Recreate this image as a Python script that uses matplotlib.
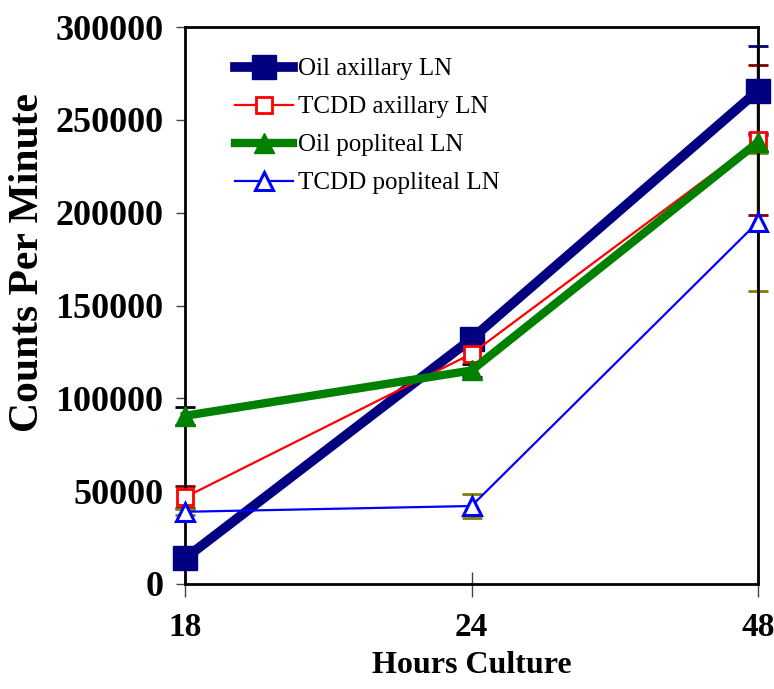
import matplotlib
matplotlib.use("Agg")
import matplotlib.pyplot as plt

plt.rcParams['font.family'] = ['Liberation Serif', 'DejaVu Serif']

# Culture time points (hours)
hours = ["18", "24", "48"]

# Mean counts per minute for each lymph node group
oil_axillary = [13800, 132000, 265700]
tcdd_axillary = [46700, 124000, 239000]
oil_popliteal = [90600, 115000, 238000]
tcdd_popliteal = [38900, 42000, 195000]

# Error magnitudes (symmetric)
oil_axillary_err = [3000, 3000, 24000]
tcdd_axillary_err = [6000, 3000, 40500]
oil_popliteal_err = [5000, 3500, 5000]
tcdd_popliteal_err = [1500, 6500, 37000]

y_ticks = [0, 50000, 100000, 150000, 200000, 250000, 300000]

fig = plt.figure(figsize=(7.74, 6.89), dpi=100)
ax = fig.add_axes([185 / 774, 1 - 584 / 689, (758 - 185) / 774, (584 - 27) / 689])

x = list(range(len(hours)))

series = [
    (oil_axillary, oil_axillary_err, "Oil axillary LN",
     dict(color="#000080", lw=7, marker="s", ms=17, mfc="#000080", mec="#000080", mew=1),
     "#000080"),
    (tcdd_axillary, tcdd_axillary_err, "TCDD axillary LN",
     dict(color="#FF0000", lw=1.6, marker="s", ms=11, mfc="white", mec="#FF0000", mew=2),
     "#800000"),
    (oil_popliteal, oil_popliteal_err, "Oil popliteal LN",
     dict(color="#008000", lw=6, marker="^", ms=15, mfc="#008000", mec="#008000", mew=1),
     "#000000"),
    (tcdd_popliteal, tcdd_popliteal_err, "TCDD popliteal LN",
     dict(color="#0000FF", lw=1.6, marker="^", ms=13, mfc="white", mec="#0000FF", mew=2.2),
     "#808000"),
]

# error bars sit beneath all series lines and markers
for vals, errs, label, style, ecol in series:
    eb = ax.errorbar(x, vals, yerr=errs, fmt="none", ecolor=ecol, elinewidth=1.6,
                     capsize=7, capthick=2, zorder=1.5)
    for art in list(eb.lines[1]) + list(eb.lines[2]):
        art.set_clip_on(False)

handles = []
for i, (vals, errs, label, style, ecol) in enumerate(series):
    (ln,) = ax.plot(x, vals, label=label, zorder=3 + i, clip_on=False, **style)
    handles.append(ln)

ax.set_xlim(0, 2)
ax.set_ylim(0, 300000)
ax.set_xticks(x)
ax.set_xticklabels(hours)
ax.set_yticks(y_ticks)
ax.set_yticklabels([str(v) for v in y_ticks])

for s in ax.spines.values():
    s.set_linewidth(2.0)
    s.set_color("black")

ax.tick_params(axis="y", direction="out", length=6.5, width=1.0, color="#444444",
               pad=9, labelsize=26)
ax.tick_params(axis="x", direction="inout", length=18, width=1.0, color="#444444",
               pad=11, labelsize=24)
for lab in ax.get_xticklabels() + ax.get_yticklabels():
    lab.set_fontweight("bold")

ax.set_xlabel("Hours Culture", fontsize=23, fontweight="bold", labelpad=6)
ax.set_ylabel("Counts Per Minute", fontsize=30, fontweight="bold")
ax.yaxis.set_label_coords(-(185 - 47) / 573, (584 - 262) / 557)

leg = ax.legend(handles=handles, loc="upper left", bbox_to_anchor=(235 / 774, 1 - 58 / 689),
                bbox_transform=fig.transFigure, frameon=False, fontsize=18,
                handlelength=2.3, handletextpad=0.2, labelspacing=0.62,
                numpoints=1, borderpad=0, borderaxespad=0)

fig.savefig("out.png", dpi=100)
